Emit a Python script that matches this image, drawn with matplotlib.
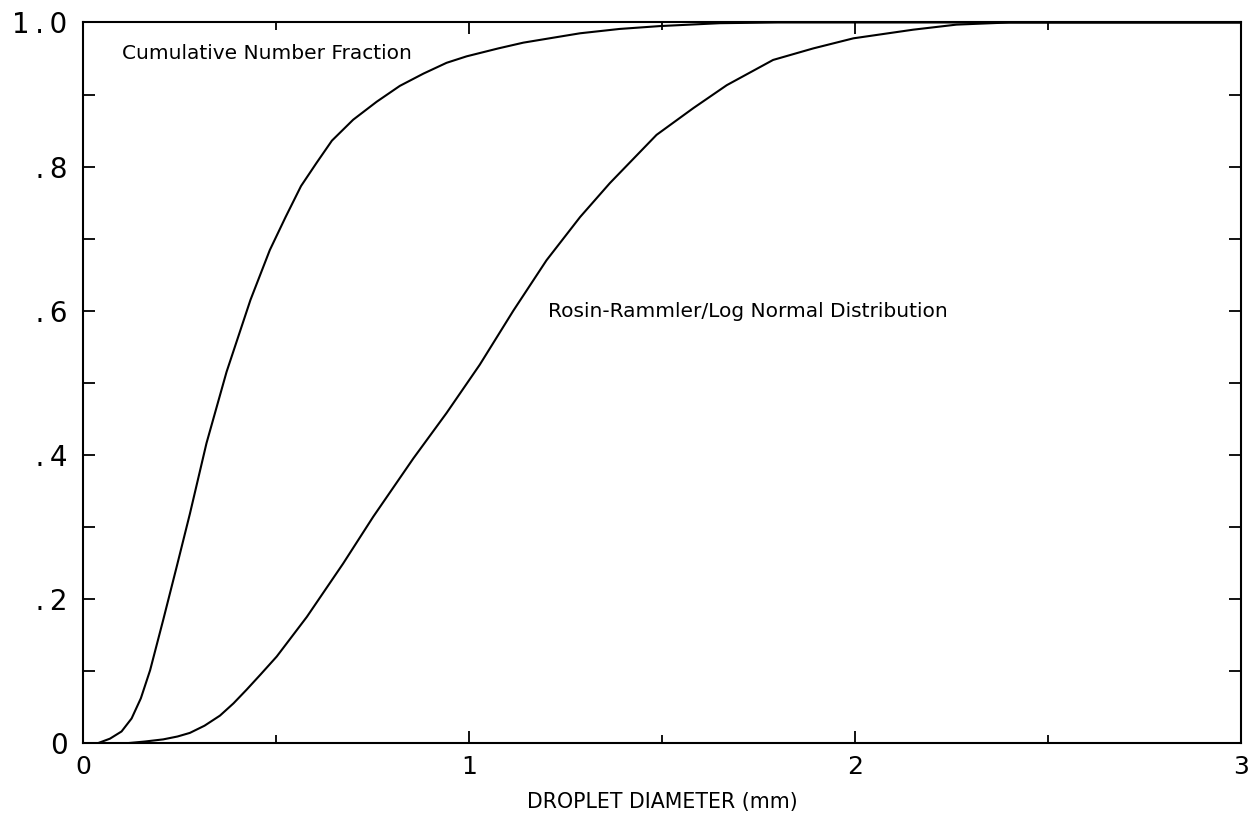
import numpy as np
import matplotlib
matplotlib.use('Agg')
import matplotlib.pyplot as plt
from matplotlib.ticker import MultipleLocator, FixedLocator

# values (diameter in mm, cumulative fraction)
num_x = [0.04, 0.07, 0.10, 0.126, 0.15, 0.174, 0.208, 0.243, 0.277, 0.320, 0.372,
         0.434, 0.484, 0.525, 0.565, 0.605, 0.645, 0.70, 0.761, 0.821, 0.882, 0.942,
         0.994, 1.076, 1.141, 1.22, 1.288, 1.39, 1.495, 1.65, 1.8, 3.0]
num_y = [0.0, 0.006, 0.016, 0.034, 0.062, 0.101, 0.171, 0.245, 0.318, 0.416, 0.515,
         0.615, 0.684, 0.730, 0.773, 0.805, 0.836, 0.865, 0.890, 0.912, 0.929, 0.944,
         0.953, 0.964, 0.972, 0.979, 0.985, 0.991, 0.995, 0.999, 1.0, 1.0]

rr_x = [0.12, 0.16, 0.208, 0.245, 0.277, 0.315, 0.355, 0.39, 0.424, 0.46, 0.502,
        0.580, 0.674, 0.752, 0.856, 0.942, 1.028, 1.115, 1.201, 1.288, 1.365, 1.486,
        1.581, 1.668, 1.788, 1.892, 1.996, 2.151, 2.263, 2.4, 3.0]
rr_y = [0.0, 0.002, 0.005, 0.009, 0.014, 0.024, 0.038, 0.055, 0.074, 0.095, 0.120,
        0.175, 0.249, 0.314, 0.395, 0.458, 0.525, 0.600, 0.670, 0.730, 0.777, 0.844,
        0.881, 0.913, 0.948, 0.964, 0.978, 0.990, 0.997, 1.0, 1.0]

ytick_vals = [0, 0.2, 0.4, 0.6, 0.8, 1.0]
ytick_text = ['0', '\u2009.\u20092', '\u2009.\u20094', '\u2009.\u20096', '\u2009.\u20098', '1\u2009.\u20090']
xtick_vals = [0, 1, 2, 3]
xtick_text = ['0', '1', '2', '3']

fig = plt.figure(figsize=(12.55, 8.17), dpi=100)
ax = fig.add_axes([0.0661, 0.0906, 0.9227, 0.8819])

ax.plot(num_x, num_y, color='black', lw=1.5)
ax.plot(rr_x, rr_y, color='black', lw=1.5)

ax.set_xlim(0, 3)
ax.set_ylim(0, 1)

ax.xaxis.set_major_locator(FixedLocator(xtick_vals))
ax.set_xticklabels(xtick_text)
ax.xaxis.set_minor_locator(MultipleLocator(0.5))
ax.yaxis.set_major_locator(FixedLocator(ytick_vals))
ax.set_yticklabels(ytick_text)
ax.yaxis.set_minor_locator(MultipleLocator(0.1))

ax.tick_params(axis='both', which='both', direction='in', top=True, right=True,
               width=1.3, color='black')
ax.tick_params(axis='x', which='major', length=8.6, pad=9, labelsize=18)
ax.tick_params(axis='x', which='minor', length=5.8)
ax.tick_params(axis='y', which='major', length=8.6, pad=11, labelsize=20)
ax.tick_params(axis='y', which='minor', length=8.6)

for s in ax.spines.values():
    s.set_linewidth(1.5)

ax.text(0.10, 0.957, 'Cumulative Number Fraction', fontsize=14.5, va='center', ha='left')
ax.text(1.205, 0.599, 'Rosin-Rammler/Log Normal Distribution', fontsize=14.5,
        va='center', ha='left')

ax.set_xlabel('DROPLET DIAMETER (mm)', fontsize=14.8, labelpad=9)

fig.savefig('out.png', dpi=100)
